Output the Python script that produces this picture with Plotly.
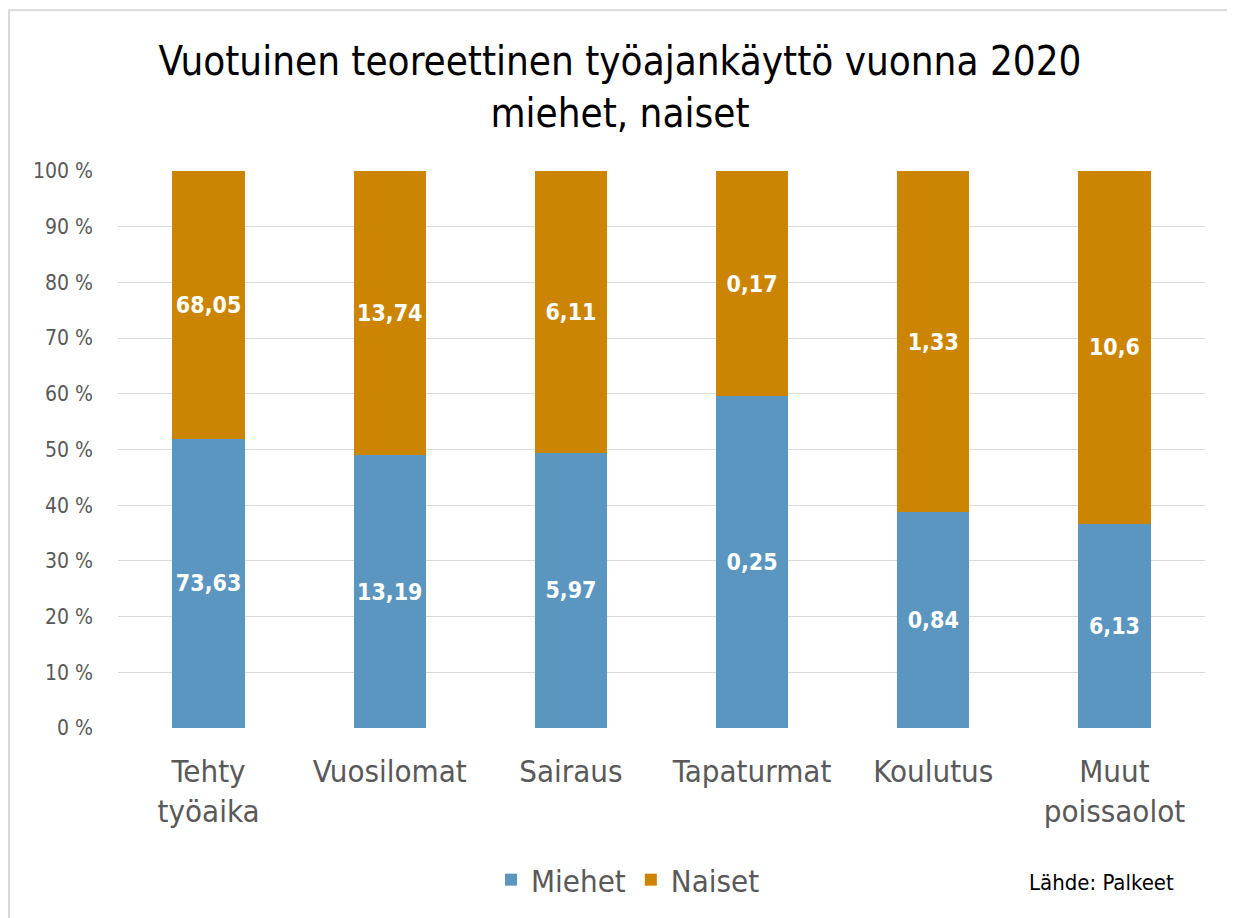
import plotly.graph_objects as go

categories = ["Tehty<br>työaika", "Vuosilomat", "Sairaus", "Tapaturmat", "Koulutus", "Muut<br>poissaolot"]
miehet = [73.63, 13.19, 5.97, 0.25, 0.84, 6.13]
naiset = [68.05, 13.74, 6.11, 0.17, 1.33, 10.6]
y_ticks = [0, 10, 20, 30, 40, 50, 60, 70, 80, 90, 100]
y_ticktext = [f"{v} %" for v in y_ticks]

FONT = "Liberation Sans Narrow, DejaVu Sans Condensed, Liberation Sans, sans-serif"
BLUE = "#5A96BF"
ORANGE = "#CC8503"

def fmt(v):
    return str(v).replace(".", ",")

fig = go.Figure()
for name, vals, col in [("Miehet", miehet, BLUE), ("Naiset", naiset, ORANGE)]:
    fig.add_trace(go.Bar(
        x=categories, y=vals, name=name, marker=dict(color=col, line=dict(width=0)),
        text=[fmt(v) for v in vals], textposition="inside", insidetextanchor="middle",
        textfont=dict(family=FONT, size=23, color="white", weight="bold"),
        constraintext="none", texttemplate="<b>%{text}</b>",
    ))

OFF = 8  # page body margin
W, H = 1235 - OFF, 918 - OFF
# page-coordinate layout targets
P_LEFT, P_RIGHT, P_TOP, P_BOTTOM = 118, 1205, 171, 729
L = P_LEFT - OFF
R = W - (P_RIGHT - OFF)
T = P_TOP - OFF
B = H - (P_BOTTOM - OFF)

def px(xp):
    return (xp - P_LEFT) / (P_RIGHT - P_LEFT)

def py(yp):
    return (P_BOTTOM - yp) / (P_BOTTOM - P_TOP)

fig.update_layout(
    width=W, height=H, barmode="stack", barnorm="percent", bargap=0.6,
    plot_bgcolor="white", paper_bgcolor="white",
    margin=dict(l=L, r=R, t=T, b=B),
    font=dict(family=FONT, color="#595959"),
    title=dict(text="Vuotuinen teoreettinen työajankäyttö vuonna 2020<br>miehet, naiset",
               x=(620 - OFF) / W, xanchor="center", xref="container",
               y=1 - (75 - OFF) / H, yanchor="middle", yref="container",
               font=dict(family=FONT, size=40, color="black")),
    yaxis=dict(range=[0, 100], tickvals=y_ticks, ticktext=y_ticktext, showgrid=True,
               gridcolor="#D9D9D9", gridwidth=1, zeroline=False, showline=False,
               tickfont=dict(size=21, color="#595959"), ticklabelstandoff=24),
    xaxis=dict(showline=False, tickfont=dict(size=31, color="#595959"), ticklabelstandoff=22),
    legend=dict(orientation="h", x=px(628), xanchor="center", y=py(880),
                yanchor="middle", font=dict(size=31, color="#595959"), traceorder="normal"),
    showlegend=True,
)

fig.add_annotation(text="Lähde: Palkeet", xref="paper", yref="paper",
                   x=px(1176), xanchor="right", y=py(884), yanchor="middle",
                   showarrow=False, font=dict(family=FONT, size=22, color="black"))

fig.add_shape(type="rect", xref="paper", yref="paper",
              x0=px(9), x1=px(1232), y0=py(930), y1=py(10),
              line=dict(color="#D9D9D9", width=2), fillcolor="rgba(0,0,0,0)", layer="below")

fig.write_html("out.html")
